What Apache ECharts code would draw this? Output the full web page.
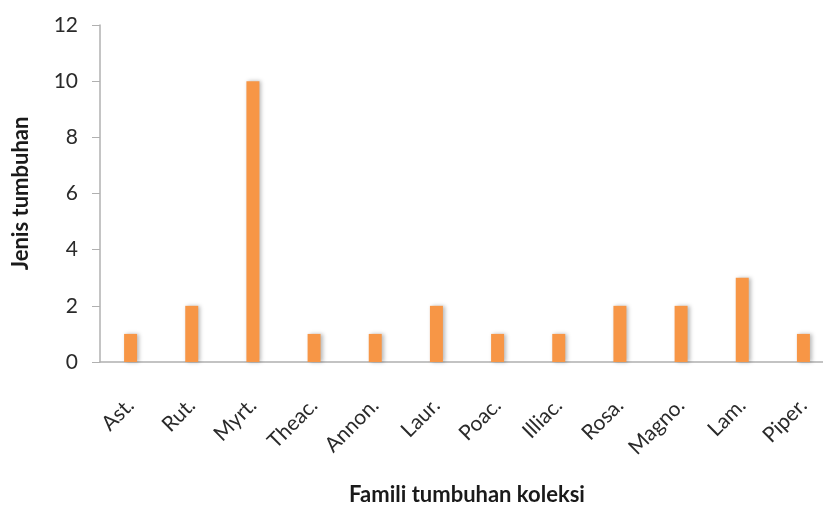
<!DOCTYPE html>
<html><head><meta charset="utf-8">
<script src="https://cdn.jsdelivr.net/npm/echarts@6/dist/echarts.min.js"></script>
<style>html,body{margin:0;padding:0;background:#fff}#c{width:823px;height:508px}</style>
</head><body><div id="c"></div>
<script>
const categories = ['Ast.','Rut.','Myrt.','Theac.','Annon.','Laur.','Poac.','Illiac.','Rosa.','Magno.','Lam.','Piper.'];
const values = [1,2,10,1,1,2,1,1,2,2,3,1];
const yTicks = {min:0, max:12, interval:2};
const chart = echarts.init(document.getElementById('c'));
const font = 'Lato, "Open Sans", sans-serif';
chart.setOption({
  animation:false,
  grid:{left:100, right:-11, top:25, bottom:146, containLabel:false, outerBoundsMode:'none'},
  xAxis:{
    type:'category', data:categories,
    name:'Famili tumbuhan koleksi', nameLocation:'middle', nameGap:122,
    nameTextStyle:{fontFamily:font, fontWeight:'bold', fontSize:22, color:'#1a1a1a'},
    axisLine:{lineStyle:{color:'#b0b0b0', width:1.5}},
    axisTick:{show:false},
    axisLabel:{rotate:45, interval:0, margin:40, fontFamily:font, fontSize:21, color:'#2a2a2a'}
  },
  yAxis:{
    type:'value', min:yTicks.min, max:yTicks.max, interval:yTicks.interval,
    name:'Jenis tumbuhan', nameLocation:'middle', nameGap:68,
    nameTextStyle:{fontFamily:font, fontWeight:'bold', fontSize:22, color:'#1a1a1a'},
    axisLine:{show:true, lineStyle:{color:'#b0b0b0', width:1.5}},
    axisTick:{show:true, length:8, lineStyle:{color:'#b0b0b0'}},
    splitLine:{show:false},
    axisLabel:{margin:22, fontFamily:font, fontSize:21, color:'#2a2a2a'}
  },
  series:[{
    type:'bar', data:values, barWidth:13,
    itemStyle:{color:'#f79646', shadowColor:'rgba(0,0,0,0.28)', shadowBlur:4, shadowOffsetX:2, shadowOffsetY:0}
  }]
});
</script></body></html>
